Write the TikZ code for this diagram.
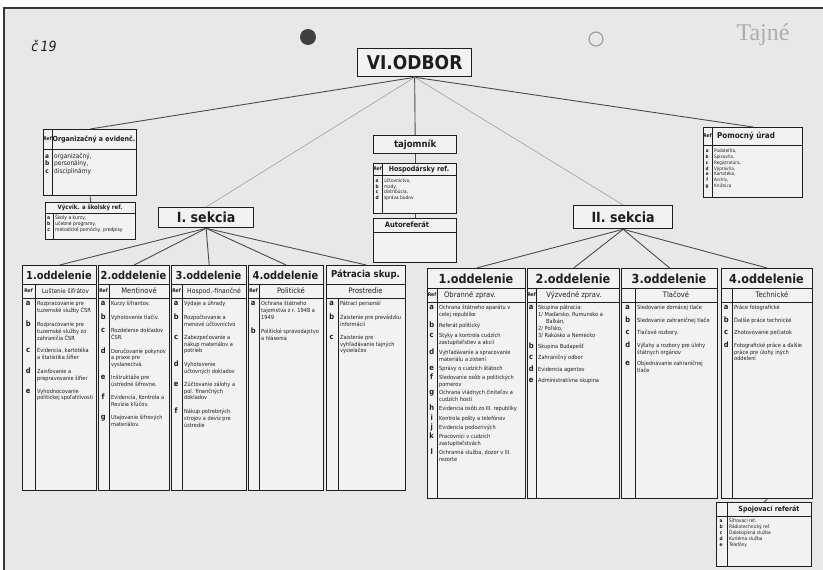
\documentclass[tikz,border=0pt]{standalone}
\usepackage{fontspec}
\setmainfont{DejaVu Sans Condensed}
\newfontfamily\tajfont{Liberation Serif}
\usepackage{array}
\definecolor{ink}{RGB}{30,30,30}
\definecolor{paper}{RGB}{232,232,232}
\definecolor{boxfill}{RGB}{242,242,242}
\definecolor{edge}{RGB}{55,55,55}
\tikzset{
  boxn/.style={draw=ink, line width=1.3pt, inner sep=0pt, anchor=north west, fill=boxfill},
  sep/.style={draw=ink, line width=1pt},
  conn/.style={draw=ink!80, line width=0.9pt},
  faint/.style={draw=ink!40, line width=0.7pt},
  ttl/.style={inner sep=0pt, text=ink, font=\fontsize{11}{11}\selectfont\bfseries},
  ttlr/.style={inner sep=0pt, text=ink, font=\fontsize{12.5}{12}\selectfont\bfseries},
  subt/.style={inner sep=0pt, text=ink, font=\fontsize{7.5}{8}\selectfont},
  reft/.style={inner sep=0pt, text=ink, font=\fontsize{5}{5}\selectfont\bfseries},
  lstn/.style={inner sep=0pt, anchor=north west, text=ink, font=\fontsize{5.6}{6.8}\selectfont},
  hdr/.style={inner sep=0pt, text=ink, font=\fontsize{7}{8}\selectfont\bfseries},
}
\newcommand\rgap[1]{\\\noalign{\vskip#1}}
% column box: name, xl, xr, ytop, ybot, y1, y2, xc, title
\newcommand\oddcol[9]{%
  \node[boxn, minimum width={#3-#2}, minimum height={#5-#4}] (#1) at (#2,#4) {};
  \draw[sep] (#2,#6) -- (#3,#6);
  \draw[sep] (#2,#7) -- (#3,#7);
  \draw[sep] (#8,#6) -- (#8,#5);
  \node[ttl] (#1t) at ({(#2+#3)/2},{(#4+#6)/2+0.5}) {#9};
}
% item list: name, xl, xc, xr, ytop, rows
\newcommand\items[6]{%
  \node[lstn] (#1) at (#2+1,#5+3) {\begin{tabular}{@{}>{\centering\arraybackslash\bfseries\fontsize{7.5}{7.5}\selectfont}p{\dimexpr#3pt-#2pt-3pt\relax}@{\hspace{4pt}}>{\raggedright\arraybackslash}p{\dimexpr#4pt-#3pt-5pt\relax}@{}}#6\end{tabular}};%
}
\begin{document}
\begin{tikzpicture}[x=1pt,y=-1pt]
\useasboundingbox (0,0) rectangle (823,570);
\fill[white] (0,0) rectangle (823,570);
\fill[paper] (4,8) rectangle (823,570);
\draw[edge, line width=1.2pt] (4,570) -- (4,8) -- (823,8);
% holes and marks
\fill[ink!85] (308,37) circle (8pt);
\draw[gray!75, line width=1.2pt] (596,39) circle (7pt);
\node[inner sep=0pt, text=ink, font=\fontsize{14}{14}\selectfont\itshape] (cis) at (44,46) {č\,19};
\node[inner sep=0pt, text=gray!65, font=\fontsize{24}{24}\selectfont\tajfont] (tajne) at (763,35) {Tajné};

% top level
\node[boxn, minimum width=114, minimum height=28] (vo) at (357,48) {};
\node[inner sep=0pt, text=ink, font=\fontsize{19}{19}\selectfont\bfseries] (vot) at (vo.center) {VI.ODBOR};

% Organizacny box
\node[boxn, minimum width=93, minimum height=66] (org) at (43,129) {};
\draw[sep] (43,149) -- (136,149);
\draw[sep] (52,129) -- (52,195);
\node[reft] (orgr) at (47.5,139) {Ref};
\node[hdr] (orgh) at (94,139) {Organizačný a evidenč.};
\node[lstn, font=\fontsize{6.5}{7.5}\selectfont] (orgl) at (44,153) {\begin{tabular}{@{}>{\centering\arraybackslash\bfseries}p{6pt}@{\hspace{4pt}}l@{}}a & organizačný,\\ b & personálny,\\ c & disciplinárny\end{tabular}};

% Vycvik box
\node[boxn, minimum width=90, minimum height=37] (vyc) at (45,202) {};
\draw[sep] (45,213) -- (135,213);
\draw[sep] (53,213) -- (53,239);
\node[hdr, font=\fontsize{6}{6}\selectfont\bfseries] (vych) at (90,207.5) {Výcvik. a školský ref.};
\node[lstn, font=\fontsize{5}{6}\selectfont] (vycl) at (46,215) {\begin{tabular}{@{}>{\centering\arraybackslash\bfseries}p{5pt}@{\hspace{4pt}}l@{}}a & Školy a kurzy,\\ b & učebné programy,\\ c & metodické pomôcky, predpisy\end{tabular}};
\draw[conn] (org.south) -- (vyc.north);

% tajomnik column
\node[boxn, minimum width=83, minimum height=18] (taj) at (373,135) {};
\node[inner sep=0pt, text=ink, font=\fontsize{9.5}{10}\selectfont\bfseries] (tajt) at (taj.center) {tajomník};
\node[boxn, minimum width=83, minimum height=50] (hosp) at (373,163) {};
\draw[sep] (373,175) -- (456,175);
\draw[sep] (382,163) -- (382,213);
\node[reft] (hospr) at (377.5,169) {Ref};
\node[hdr] (hosph) at (419,169) {Hospodársky ref.};
\node[lstn, font=\fontsize{4.8}{5.8}\selectfont] (hospl) at (374,178) {\begin{tabular}{@{}>{\centering\arraybackslash\bfseries}p{6pt}@{\hspace{4pt}}l@{}}a & účtovníctvo,\\ b & mzdy,\\ c & distribúcia,\\ d & správa budov\end{tabular}};
\node[boxn, minimum width=83, minimum height=44] (auto) at (373,218) {};
\draw[sep] (373,232) -- (456,232);
\node[hdr, font=\fontsize{7.5}{8}\selectfont\bfseries] (autot) at (407,225) {Autoreferát};
\draw[conn] (taj.south) -- (hosp.north);
\draw[conn] (hosp.south) -- (auto.north);

% Pomocny urad
\node[boxn, minimum width=99, minimum height=70] (pom) at (703,127) {};
\draw[sep] (703,145) -- (802,145);
\draw[sep] (712,127) -- (712,197);
\node[reft] (pomr) at (707.5,136) {Ref};
\node[hdr, font=\fontsize{8}{8}\selectfont\bfseries] (pomh) at (746,136) {Pomocný úrad};
\node[lstn, font=\fontsize{4.6}{5.9}\selectfont] (poml) at (704,148) {\begin{tabular}{@{}>{\centering\arraybackslash\bfseries}p{6pt}@{\hspace{4pt}}l@{}}a & Podateľňa,\\ b & Spisovňa,\\ c & Registratúra,\\ d & Výpravňa,\\ e & Kartotéka,\\ f & Archív,\\ g & Knižnica\end{tabular}};

% sections
\node[boxn, minimum width=95, minimum height=20] (isek) at (158,207) {};
\node[inner sep=0pt, text=ink, font=\fontsize{14}{14}\selectfont\bfseries] (isekt) at (isek.center) {I. sekcia};
\node[boxn, minimum width=99, minimum height=23] (iisek) at (573,205) {};
\node[inner sep=0pt, text=ink, font=\fontsize{14}{14}\selectfont\bfseries] (iisekt) at (iisek.center) {II. sekcia};

\draw[conn] (vo.south) -- (org.north);
\draw[conn] (vo.south) -- (pom.north);
\draw[conn] (vo.south) -- (taj.north);
\draw[faint] (vo.south) -- (isek.north);
\draw[faint] (vo.south) -- (iisek.north);

% ---------- I. sekcia columns ----------
\oddcol{L1}{22}{96}{265}{490}{284}{298}{35}{1.oddelenie}
\node[reft] (L1r) at (28.5,291) {Ref};
\node[subt, font=\fontsize{6.3}{7}\selectfont] (L1s) at (65.5,291) {Luštenie šifrátov};
\items{L1l}{22}{35}{96}{298}{%
a & Rozpracovanie pre tuzemské služby ČSR\rgap{6pt}
b & Rozpracovanie pre tuzemské služby zo zahraničia ČSR\rgap{6pt}
c & Evidencia, kartotéka a štatistika šifier\rgap{6pt}
d & Zaisťovanie a prepravovanie šifier\rgap{6pt}
e & Vyhodnocovanie politickej spoľahlivosti}

\oddcol{L2}{98}{169}{265}{490}{284}{298}{109}{2.oddelenie}
\node[reft] (L2r) at (103.5,291) {Ref};
\node[subt] (L2s) at (139,291) {Mentinové};
\items{L2l}{98}{109}{169}{298}{%
a & Kurzy šifrantov.\rgap{6pt}
b & Vyhotovenie tlačív.\rgap{6pt}
c & Rozdelenie dokladov ČSR.\rgap{6pt}
d & Doručovanie pokynov a praxe pre vyslanectvá.\rgap{6pt}
e & Inštruktáže pre ústredné šifrovne.\rgap{6pt}
f & Evidencia, Kontrola a Revízia kľúčov.\rgap{6pt}
g & Utajovanie šifrových materiálov.}

\oddcol{L3}{171}{246}{265}{490}{284}{298}{182}{3.oddelenie}
\node[reft] (L3r) at (176.5,291) {Ref};
\node[subt, font=\fontsize{6.8}{7}\selectfont] (L3s) at (214,291) {Hospod.-finančné};
\items{L3l}{171}{182}{246}{298}{%
a & Výdaje a úhrady\rgap{6pt}
b & Rozpočtovanie a menové účtovníctvo\rgap{6pt}
c & Zabezpečovanie a nákup materiálov a potrieb\rgap{6pt}
d & Vyhotovenie účtovných dokladov\rgap{6pt}
e & Zúčtovanie zálohy a pol. finančných dokladov\rgap{6pt}
f & Nákup potrebných strojov a devíz pre ústredie}

\oddcol{L4}{248}{323}{265}{490}{284}{298}{259}{4.oddelenie}
\node[reft] (L4r) at (253.5,291) {Ref};
\node[subt] (L4s) at (291,291) {Politické};
\items{L4l}{248}{259}{323}{298}{%
a & Ochrana štátneho tajomstva z r. 1948 a 1949\rgap{6pt}
b & Politické spravodajstvo a hlásenia}

% Patracia skupina
\node[boxn, minimum width=79, minimum height=225] (L5) at (326,265) {};
\draw[sep] (326,284) -- (405,284);
\draw[sep] (326,298) -- (405,298);
\draw[sep] (338,298) -- (338,490);
\node[ttl, font=\fontsize{9.5}{10}\selectfont\bfseries] (L5t) at (365.5,275) {Pátracia skup.};
\node[subt] (L5s) at (365.5,291) {Prostredie};
\items{L5l}{326}{338}{405}{298}{%
a & Pátrací personál\rgap{6pt}
b & Zaistenie pre prevádzku informácií\rgap{6pt}
c & Zaistenie pre vyhľadávanie tajných vysielačov}

\draw[conn] (isek.south) -- (L1.north);
\draw[conn] (isek.south) -- (L2.north);
\draw[conn] (isek.south) -- (L3.north);
\draw[conn] (isek.south) -- (L4.north);
\draw[conn] (isek.south) -- (L5.north);

% ---------- II. sekcia columns ----------
\tikzset{ttl/.style={ttlr}}
\oddcol{R1}{427}{525}{268}{498}{288}{302}{437}{1.oddelenie}
\node[reft] (R1r) at (432,295) {Ref};
\node[subt] (R1s) at (470,295) {Obranné zprav.};
\items{R1l}{427}{437}{525}{302}{%
a & Ochrana štátneho aparátu v celej republike\rgap{3pt}
b & Referát politický\rgap{3pt}
c & Styky a kontrola cudzích zastupiteľstiev a akcií\rgap{3pt}
d & Vyhľadávanie a spracovanie materiálu a zistení\rgap{2pt}
e & Správy o cudzích štátoch\rgap{1.5pt}
f & Sledovanie osôb a politických pomerov\rgap{1.5pt}
g & Ochrana vládnych činiteľov a cudzích hostí\rgap{1.5pt}
h & Evidencia osôb zo III. republiky\rgap{1.5pt}
i & Kontrola pošty a telefónov\rgap{1.5pt}
j & Evidencia podozrivých\rgap{1.5pt}
k & Pracovníci v cudzích zastupiteľstvách\rgap{1.5pt}
l & Ochranná služba, dozor v III. rezorte}

\oddcol{R2}{527}{619}{268}{498}{288}{302}{536}{2.oddelenie}
\node[reft] (R2r) at (531.5,295) {Ref};
\node[subt] (R2s) at (574,295) {Výzvedné zprav.};
\items{R2l}{527}{536}{619}{302}{%
a & Skupina pátracia:\newline 1/ Maďarsko, Rumunsko a\newline \hspace*{8pt}Balkán,\newline 2/ Poľsko,\newline 3/ Rakúsko a Nemecko\rgap{4pt}
b & Skupina Budapešť\rgap{4pt}
c & Zahraničný odbor\rgap{4pt}
d & Evidencia agentov\rgap{4pt}
e & Administratívna skupina}

\oddcol{R3}{621}{717}{268}{498}{288}{302}{635}{3.oddelenie}
\node[subt] (R3s) at (676,295) {Tlačové};
\items{R3l}{621}{635}{717}{302}{%
a & Sledovanie domácej tlače\rgap{5pt}
b & Sledovanie zahraničnej tlače\rgap{5pt}
c & Tlačové rozbory.\rgap{5pt}
d & Výťahy a rozbory pre úlohy štátnych orgánov\rgap{5pt}
e & Objednávanie zahraničnej tlače}

\oddcol{R4}{721}{812}{268}{498}{288}{302}{732}{4.oddelenie}
\node[subt] (R4s) at (772,295) {Technické};
\items{R4l}{721}{732}{812}{302}{%
a & Práce fotografické\rgap{5pt}
b & Ďalšie práce technické\rgap{5pt}
c & Zhotovovanie pečiatok\rgap{5pt}
d & Fotografické práce a ďalšie práce pre úlohy iných oddelení}

\draw[conn] (iisek.south) -- (R1.north);
\draw[conn] (iisek.south) -- (R2.north);
\draw[conn] (iisek.south) -- (R3.north);
\draw[conn] (iisek.south) -- (R4.north);

% Spojovaci referat
\node[boxn, minimum width=95, minimum height=64] (spoj) at (716,502) {};
\draw[sep] (716,516) -- (811,516);
\draw[sep] (727,502) -- (727,566);
\node[hdr, font=\fontsize{7}{7}\selectfont\bfseries] (spojh) at (769,509) {Spojovací referát};
\node[lstn, font=\fontsize{4.8}{6}\selectfont] (spojl) at (717,518) {\begin{tabular}{@{}>{\centering\arraybackslash\bfseries}p{8pt}@{\hspace{4pt}}l@{}}a & Šifrovací ref.\\ b & Rádiotechnický ref.\\ c & Ďalekopisná služba\\ d & Kuriérna služba\\ e & Telefóny\end{tabular}};
\draw[conn] (R4.south) -- (spoj.north);
\end{tikzpicture}
\end{document}
